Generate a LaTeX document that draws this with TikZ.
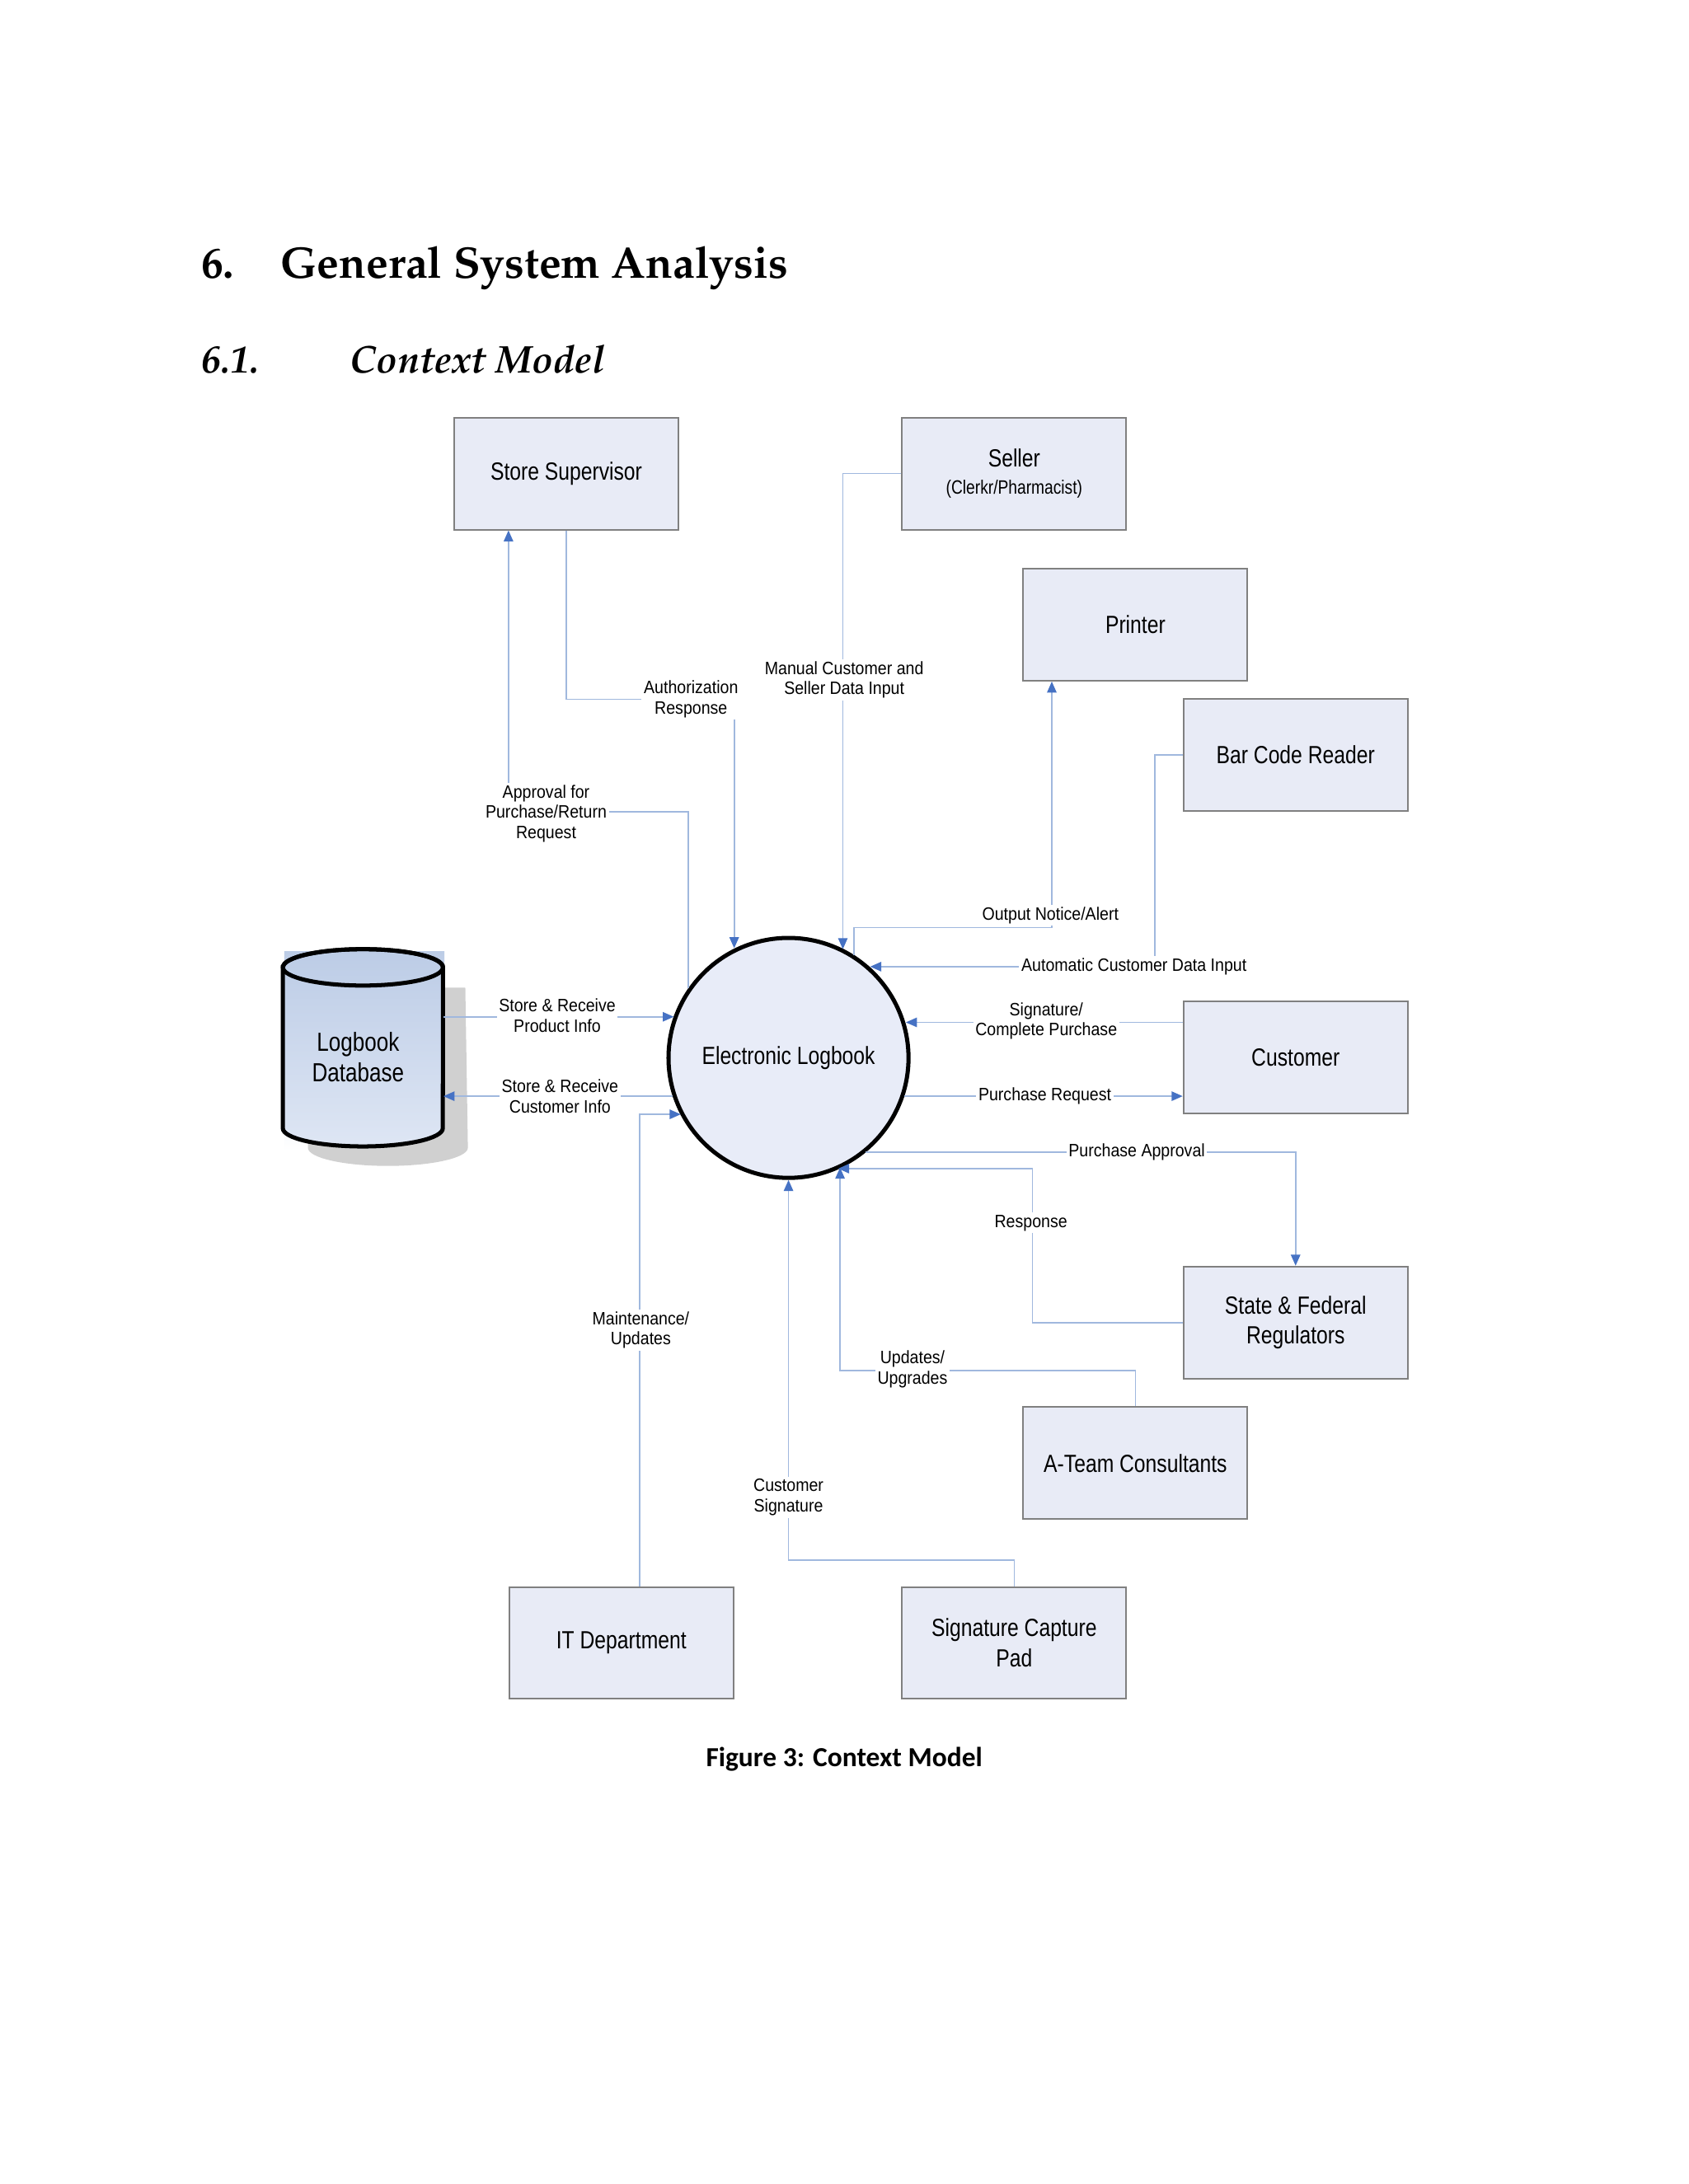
\documentclass[tikz,border=0pt]{standalone}
\usepackage{fontspec}
\usetikzlibrary{arrows.meta,calc}
\newfontfamily\dfont[FakeStretch=0.82]{Liberation Sans}
\newfontfamily\lfont[FakeStretch=0.9]{Liberation Sans}
\newfontfamily\capfont{Carlito}
\newcommand\palfont{\fontencoding{T1}\fontfamily{ppl}\selectfont}
\definecolor{boxfill}{RGB}{232,235,246}
\definecolor{boxline}{RGB}{128,128,128}
\definecolor{connc}{RGB}{160,184,222}
\definecolor{tipblue}{RGB}{70,114,196}
\definecolor{circfill}{RGB}{232,236,248}
\definecolor{dbtop}{RGB}{188,204,230}
\definecolor{dbbot}{RGB}{222,230,244}
\definecolor{shadowc}{RGB}{208,208,208}
\begin{document}
\begin{tikzpicture}[x=0.505pt,y=-0.505pt,
  ent/.style={draw=boxline,line width=0.6pt,fill=boxfill,minimum width=81.3pt,minimum height=40.6pt,inner sep=0pt,align=center,font=\dfont\fontsize{9}{11}\selectfont},
  flow/.style={draw=connc,line width=0.5pt,-{Triangle[length=4pt,width=3.4pt,color=tipblue,fill=tipblue]}},
  lbl/.style={fill=white,inner sep=0.8pt,align=center,font=\lfont\fontsize{6.5}{7.3}\selectfont}]
\useasboundingbox[fill=white] (0,0) rectangle (1212,1568);

% headings
\node[anchor=base west,inner sep=0,font=\palfont\bfseries\fontsize{16}{19}\selectfont] (h1) at (144,199.5) {6.};
\node[anchor=base west,inner sep=0,font=\palfont\bfseries\fontsize{16}{19}\selectfont] (h2) at (201,199.5) {General System Analysis};
\node[anchor=base west,inner sep=0,font=\palfont\bfseries\itshape\fontsize{14}{17}\selectfont] (h3) at (144,268) {6.1.};
\node[anchor=base west,inner sep=0,font=\palfont\bfseries\itshape\fontsize{14}{17}\selectfont] (h4) at (251,268) {Context Model};

% database
\shade[top color=dbtop,bottom color=white] (204,683) rectangle (319,826);
\fill[shadowc] (221,709) -- (221,824) arc[start angle=180,end angle=360,x radius=29pt,y radius=6.6pt] -- (334,709) -- cycle;
\shade[top color=dbtop,bottom color=dbbot,draw=black,line width=1.5pt]
  (203,694.5) -- (203,810) arc[start angle=180,end angle=360,x radius=29pt,y radius=6.6pt]
  -- (318,694.5) arc[start angle=0,end angle=180,x radius=29pt,y radius=6.6pt] -- cycle;
\draw[black,line width=1.5pt] (260.5,694.5) ellipse[x radius=29pt,y radius=6.6pt];
\node[minimum width=58pt,minimum height=71.7pt,inner sep=0pt] (db) at (260.5,752) {};
\node[inner sep=0pt,align=center,font=\dfont\fontsize{9.5}{11}\selectfont] (dbt) at (257,759) {Logbook\\Database};

% entities
\node[ent] (ss) at (406.5,340) {Store Supervisor};
\node[ent] (sel) at (728,340) {Seller\\[-1pt]{\fontsize{7}{9}\selectfont(Clerkr/Pharmacist)}};
\node[ent] (pr) at (815,448.5) {Printer};
\node[ent] (bcr) at (930,542) {Bar Code Reader};
\node[ent] (cus) at (930,759) {Customer};
\node[ent] (sfr) at (930,949.5) {State \& Federal\\Regulators};
\node[ent] (atc) at (815,1050.5) {A-Team Consultants};
\node[ent] (it) at (446,1179.5) {IT Department};
\node[ent] (scp) at (728,1179.5) {Signature Capture\\Pad};

% process
\node[circle,draw=black,line width=1.5pt,fill=circfill,minimum size=87pt,inner sep=0pt,font=\dfont\fontsize{9}{11}\selectfont] (el) at (566,759.5) {Electronic Logbook};

% flows
\draw[flow] (494,0 |- el.145.9) |- (365,583) -- (365,0 |- ss.south);
\draw[flow] (ss.south) |- (527,502) -- (527,0 |- el.116.6);
\draw[flow] (sel.west) -| (605,0 |- el.63.4);
\draw[flow] (613,0 |- el.57.3) |- (755,666) -- (755,0 |- pr.south);
\draw[flow] (bcr.west) -| (829,694) -- (el.48.4 |- 0,694);
\draw[flow] (cus.west |- 0,734) -- (el.16.7 |- 0,734);
\draw[flow] (el.-18.8 |- 0,787) -- (cus.west |- 0,787);
\draw[flow] (el.-51.3 |- 0,827) -| (sfr.north);
\draw[flow] (sfr.west) -| (741,839) -- (el.-66.8 |- 0,839);
\draw[flow] (atc.north) |- (603,984) -- (603,0 |- el.-64.8);
\draw[flow] (scp.north) |- (566,1120) -- (el.south);
\draw[flow] (459,0 |- it.north) |- (el.208.1 |- 0,800);
\draw[flow] (db.east |- 0,730) -- (el.160.5 |- 0,730);
\draw[flow] (el.198.8 |- 0,787) -- (db.east |- 0,787);

% labels
\node[lbl] (l1) at (392,584) {Approval for\\Purchase/Return\\Request};
\node[lbl] (l2) at (496,502) {Authorization\\Response};
\node[lbl] (l3) at (606,488) {Manual Customer and\\Seller Data Input};
\node[lbl] (l4) at (754,657) {Output Notice/Alert};
\node[lbl] (l5) at (814,694) {Automatic Customer Data Input};
\node[lbl] (l6) at (751,733) {Signature/\\Complete Purchase};
\node[lbl] (l7) at (750,787) {Purchase Request};
\node[lbl] (l8) at (816,827) {Purchase Approval};
\node[lbl] (l9) at (740,878) {Response};
\node[lbl] (l10) at (655,983) {Updates/\\Upgrades};
\node[lbl] (l11) at (566,1075) {Customer\\Signature};
\node[lbl] (l12) at (460,955) {Maintenance/\\Updates};
\node[lbl] (l13) at (400,729) {Store \& Receive\\Product Info};
\node[lbl] (l14) at (402,787) {Store \& Receive\\Customer Info};

% caption
\node[anchor=base,inner sep=0,font=\capfont\bfseries\fontsize{10}{12}\selectfont] (cap) at (606,1268) {Figure 3: Context Model};
\end{tikzpicture}
\end{document}
